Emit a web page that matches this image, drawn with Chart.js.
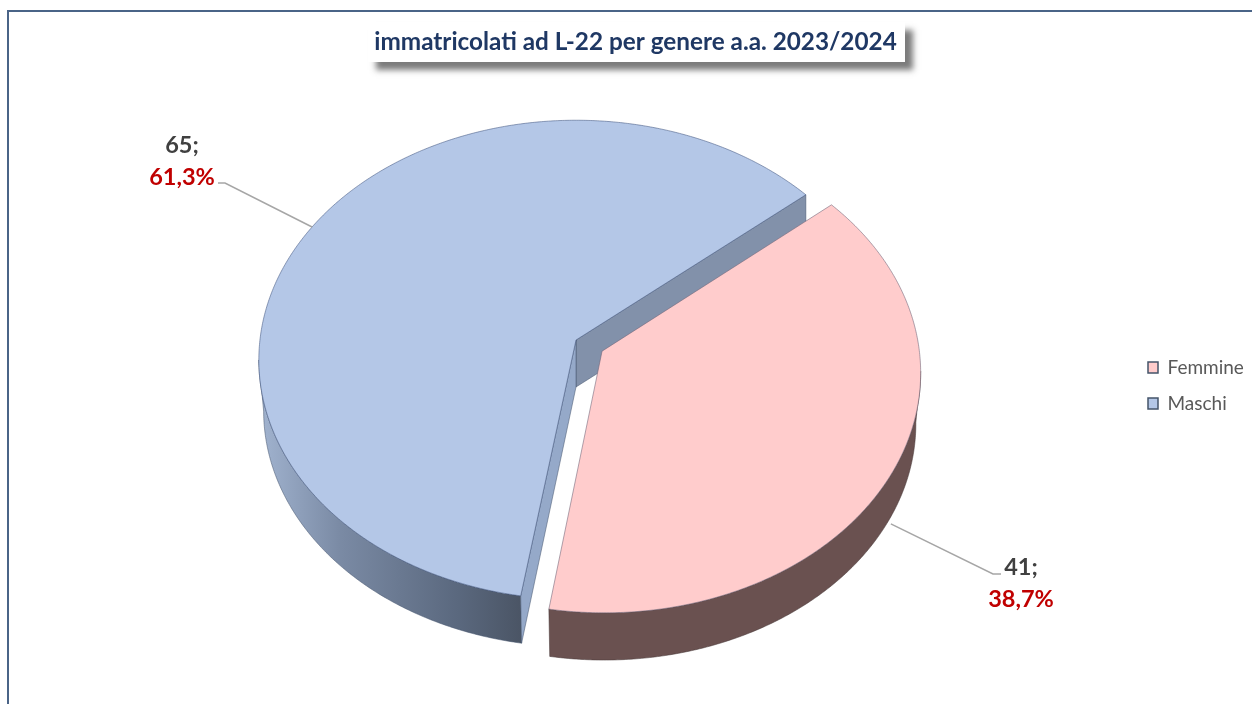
<!DOCTYPE html>
<html>
<head>
<meta charset="utf-8">
<style>html,body{margin:0;padding:0;background:#fff}#w{width:1252px;height:704px;position:relative}</style>
<script src="https://cdn.jsdelivr.net/npm/chart.js@4"></script>
</head>
<body>
<div id="w"><canvas id="c" width="1252" height="704"></canvas></div>
<script>
const titleText = 'immatricolati ad L-22 per genere a.a. 2023/2024';
const categories = ['Femmine', 'Maschi'];
const values = [41, 65];
const percentLabels = ['38,7%', '61,3%'];
const topColors = ['#FFCCCC', '#B4C7E7'];
const rotationDeg = 50;
const explode = [90, 0];

const CX = 576, CY = 340, RY = 238, RX_RATIO = 1.328, PERSP = 0.083, DEPTH = 47;
const RIM_RADIAL = 0.985, RIM_DEPTH = 51.5;
const labelPos = [
  {x: 1021, y1: 575, y2: 607, elbow: [993, 574], end: [1001, 574], depth: true},
  {x: 182, y1: 153, y2: 185, elbow: [225, 183], end: [218, 183], depth: false}
];

function pt(el, a, radial, dy) {
  const r = el.outerRadius, off = (el.options.offset || 0) / 4 / r;
  const mid = (el.startAngle + el.endAngle) / 2;
  const u = radial * Math.cos(a) + off * Math.cos(mid);
  const v = radial * Math.sin(a) + off * Math.sin(mid);
  const w = 1 - PERSP * v;
  return [el.x + r * RX_RATIO * u / w, el.y + r * v / w + (dy || 0)];
}
function arcPts(el, a0, a1, radial, dy) {
  const pts = [], n = Math.max(2, Math.ceil(Math.abs(a1 - a0) / 0.008));
  for (let i = 0; i <= n; i++) pts.push(pt(el, a0 + (a1 - a0) * i / n, radial, dy));
  return pts;
}
function poly(ctx, pts) {
  ctx.beginPath();
  pts.forEach((p, i) => i ? ctx.lineTo(p[0], p[1]) : ctx.moveTo(p[0], p[1]));
  ctx.closePath();
}
function paintSlice(ctx, el, i) {
  const s = el.startAngle, e = el.endAngle;
  const lo = Math.asin(PERSP), hi = Math.PI - lo;
  const a0 = Math.max(s, lo), a1 = Math.min(e, hi);
  // curved wall
  if (a1 > a0) {
    const outer = arcPts(el, a0, a1, 1, 0);
    const poly2 = outer.concat(arcPts(el, a1, a0, RIM_RADIAL, RIM_DEPTH));
    let fill = '#6A5150';
    if (i === 1) {
      const g = ctx.createLinearGradient(262, 0, 524, 0);
      g.addColorStop(0, '#A0B2CE');
      g.addColorStop(0.3, '#7A8AA4');
      g.addColorStop(0.75, '#5A687E');
      g.addColorStop(1, '#4A5464');
      fill = g;
    }
    poly(ctx, poly2);
    ctx.fillStyle = fill; ctx.fill();
    ctx.strokeStyle = i === 1 ? 'rgba(70,85,110,.7)' : 'rgba(70,55,55,.7)';
    ctx.lineWidth = .75; ctx.stroke();
  }
  if (i === 1) {
    // the two cut faces that the exploded slice uncovers
    const c = pt(el, 0, 0, 0), c2 = pt(el, 0, 0, DEPTH);
    const pe = pt(el, e, 1, 0), pe2 = pt(el, e, 1, DEPTH);
    poly(ctx, [c, pe, pe2, c2]);
    ctx.fillStyle = '#8291AA'; ctx.fill();
    ctx.strokeStyle = 'rgba(70,85,110,.7)'; ctx.stroke();
    const ps = pt(el, s, 1, 0), ps2 = pt(el, s, RIM_RADIAL, RIM_DEPTH);
    poly(ctx, [c, ps, ps2, c2]);
    ctx.fillStyle = '#95A9C9'; ctx.fill();
    ctx.stroke();
  }
  // top face
  const top = [pt(el, 0, 0, 0)].concat(arcPts(el, s, e, 1, 0));
  poly(ctx, top);
  ctx.fillStyle = el.options.backgroundColor; ctx.fill();
  ctx.strokeStyle = i === 1 ? 'rgba(70,90,130,.75)' : 'rgba(110,100,120,.75)';
  ctx.lineWidth = .75; ctx.stroke();
}

const pie3d = {
  id: 'pie3d',
  afterLayout(chart) {
    const a = chart.chartArea;
    a.left = CX - 300; a.right = CX + 300; a.top = CY - 300; a.bottom = CY + 300;
    a.width = 600; a.height = 600;
    const l = chart.legend;
    l.left = 1131; l.right = 1252; l.top = 341; l.bottom = 704;
    const t = chart.titleBlock;
    t.left = 366; t.right = 905; t.top = 28; t.bottom = 56;
  },
  beforeDraw(chart) {
    const ctx = chart.ctx;
    ctx.save();
    ctx.fillStyle = '#fff'; ctx.fillRect(0, 0, 1252, 704);
    ctx.beginPath(); ctx.moveTo(8, 704); ctx.lineTo(8, 11); ctx.lineTo(1252, 11);
    ctx.strokeStyle = '#4A6487'; ctx.lineWidth = 2; ctx.stroke();
    ctx.shadowColor = 'rgba(100,100,100,.85)'; ctx.shadowBlur = 6;
    ctx.shadowOffsetX = 8; ctx.shadowOffsetY = 8;
    ctx.fillStyle = '#fff'; ctx.fillRect(368, 22, 537, 40);
    ctx.restore();
  },
  beforeDatasetsDraw(chart) {
    const ctx = chart.ctx, arcs = chart.getDatasetMeta(0).data;
    ctx.save();
    paintSlice(ctx, arcs[1], 1);
    paintSlice(ctx, arcs[0], 0);
    // leaders and data labels
    arcs.forEach((el, i) => {
      const p = labelPos[i], mid = (el.startAngle + el.endAngle) / 2;
      const start = pt(el, mid, 1, p.depth ? DEPTH + 2 : 0);
      ctx.beginPath(); ctx.moveTo(start[0], start[1]);
      ctx.lineTo(p.elbow[0], p.elbow[1]); ctx.lineTo(p.end[0], p.end[1]);
      ctx.strokeStyle = '#A6A6A6'; ctx.lineWidth = 1.5; ctx.stroke();
      ctx.textAlign = 'center'; ctx.textBaseline = 'alphabetic';
      ctx.font = 'bold 23.5px Lato';
      ctx.fillStyle = '#404040'; ctx.fillText(values[i] + ';', p.x, p.y1);
      ctx.fillStyle = '#C00000'; ctx.fillText(percentLabels[i], p.x, p.y2);
    });
    ctx.restore();
    return false;
  }
};

new Chart(document.getElementById('c'), {
  type: 'pie',
  data: {
    labels: categories,
    datasets: [{
      data: values,
      backgroundColor: topColors,
      borderColor: '#44546A',
      borderWidth: 1.5,
      offset: explode
    }]
  },
  options: {
    responsive: false,
    animation: false,
    rotation: rotationDeg,
    radius: RY,
    plugins: {
      tooltip: {enabled: false},
      title: {
        display: true,
        text: titleText,
        color: '#1F3864',
        padding: 0,
        font: {family: 'Lato', size: 24.3, weight: 'bold'}
      },
      legend: {
        display: true,
        position: 'right',
        align: 'start',
        labels: {
          boxWidth: 10, boxHeight: 11, padding: 17,
          color: '#595959',
          font: {family: 'Lato', size: 19}
        }
      }
    }
  },
  plugins: [pie3d]
});
</script>
</body>
</html>
